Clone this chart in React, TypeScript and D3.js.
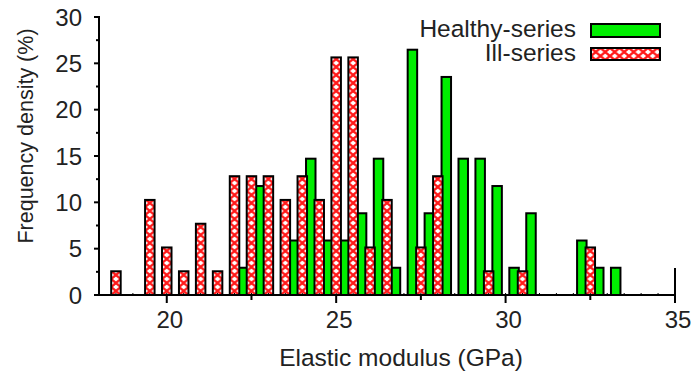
import React from 'react';
import * as d3 from 'd3';

const healthyBins = [22.25, 22.75, 23.75, 24.25, 24.75, 25.25, 25.75, 26.25, 26.75, 27.25, 27.75, 28.25, 28.75, 29.25, 29.75, 30.25, 30.75, 32.25, 32.75, 33.25];
const healthyValues = [2.94, 11.76, 5.88, 14.71, 5.88, 5.88, 8.82, 14.71, 2.94, 26.47, 8.82, 23.53, 14.71, 14.71, 11.76, 2.94, 8.82, 5.88, 2.94, 2.94];
const illBins = [18.5, 19.5, 20, 20.5, 21, 21.5, 22, 22.5, 23, 23.5, 24, 24.5, 25, 25.5, 26, 26.5, 27.5, 28, 29.5, 30.5, 32.5];
const illValues = [2.56, 10.26, 5.13, 2.56, 7.69, 2.56, 12.82, 12.82, 12.82, 10.26, 12.82, 10.26, 25.64, 25.64, 5.13, 10.26, 5.13, 12.82, 2.56, 2.56, 5.13];
const xTicks = [20, 25, 30, 35];
const xMinorTicks = [22.5, 27.5, 32.5];
const yTicks = [0, 5, 10, 15, 20, 25, 30];
const yMinorTicks = [2.5, 7.5, 12.5, 17.5, 22.5, 27.5];
const seriesNames = ['Healthy-series', 'Ill-series'];
const xTitle = 'Elastic modulus (GPa)';
const yTitle = 'Frequency density (%)';

const W = 691;
const H = 372;
const FONT = "'Liberation Sans', Arial, Helvetica, sans-serif";
const TXT = '#222';
const GREEN = '#00ee00';

export default function App() {
  const x = d3.scaleLinear().domain([18, 35]).range([99, 675]);
  const y = d3.scaleLinear().domain([0, 30]).range([295, 17]);
  const bw = x(18.28) - x(18);
  const y0 = y(0);
  const fineTicks = d3.range(18.5, 35, 0.5);

  return (
    <svg width={W} height={H} style={{ position: 'absolute', left: 0, top: 0, background: '#fff' }}>
      <defs>
        <pattern id="cross" patternUnits="userSpaceOnUse" x={0} y={0} width={bw} height={8}>
          <rect width={bw} height={8} fill="#fff" />
          <path d={`M0,0L${bw},8M${bw},0L0,8`} stroke="#ff1a1a" strokeWidth={2.4} />
        </pattern>
      </defs>
      <rect width={W} height={H} fill="#fff" />

      {/* healthy bars (behind) */}
      {healthyBins.map((b, i) => (
        <rect key={'h' + i} x={x(b) - bw / 2} y={y(healthyValues[i])} width={bw} height={y0 - y(healthyValues[i])}
          fill={GREEN} stroke="#000" strokeWidth={2} />
      ))}
      {/* ill bars (front) */}
      {illBins.map((b, i) => {
        const h = y0 - y(illValues[i]);
        return (
          <g key={'i' + i} transform={`translate(${x(b) - bw / 2},${y0})`}>
            <rect x={0} y={-h} width={bw} height={h} fill="url(#cross)" stroke="#000" strokeWidth={2} />
          </g>
        );
      })}

      {/* axes */}
      <line x1={x(18)} x2={x(35)} y1={y0} y2={y0} stroke="#000" strokeWidth={2} />
      <line x1={x(18)} x2={x(18)} y1={y(30) - 1} y2={y0 + 1} stroke="#000" strokeWidth={2} />
      {fineTicks.map((t, i) => (
        <line key={'f' + i} x1={x(t)} x2={x(t)} y1={y0} y2={y0 - 2} stroke="#000" strokeWidth={1} />
      ))}
      {xTicks.map((t) => (
        <g key={'xt' + t}>
          <line x1={x(t)} x2={x(t)} y1={t === 35 ? y0 - 27 : y0} y2={y0 + 8} stroke="#000" strokeWidth={2} />
          <text x={x(t) + 3} y={328} textAnchor="middle" fontFamily={FONT} fontSize={24} fill={TXT}>{t}</text>
        </g>
      ))}
      {xMinorTicks.map((t) => (
        <line key={'xm' + t} x1={x(t)} x2={x(t)} y1={y0} y2={y0 + 5} stroke="#000" strokeWidth={2} />
      ))}
      {yTicks.map((t) => (
        <g key={'yt' + t}>
          <line x1={x(18) - 5} x2={x(18)} y1={y(t)} y2={y(t)} stroke="#000" strokeWidth={2} />
          <text x={82} y={y(t)} dy="0.36em" textAnchor="end" fontFamily={FONT} fontSize={24} fill={TXT}>{t}</text>
        </g>
      ))}
      {yMinorTicks.map((t) => (
        <line key={'ym' + t} x1={x(18) - 3} x2={x(18)} y1={y(t)} y2={y(t)} stroke="#000" strokeWidth={2} />
      ))}

      {/* titles */}
      <text x={401} y={366} textAnchor="middle" fontFamily={FONT} fontSize={24.5} fill={TXT}>{xTitle}</text>
      <text transform="translate(33,136) rotate(-90)" textAnchor="middle" fontFamily={FONT} fontSize={21.5} fill={TXT}>{yTitle}</text>

      {/* legend */}
      <text x={576} y={37} textAnchor="end" fontFamily={FONT} fontSize={24.5} fill={TXT}>{seriesNames[0]}</text>
      <rect x={591} y={24} width={69} height={13} fill={GREEN} stroke="#000" strokeWidth={2} />
      <text x={576} y={61} textAnchor="end" fontFamily={FONT} fontSize={24.5} fill={TXT}>{seriesNames[1]}</text>
      <g transform="translate(591,48)">
        <rect x={0} y={0} width={69} height={12} fill="url(#cross)" stroke="#000" strokeWidth={2} />
      </g>
    </svg>
  );
}
